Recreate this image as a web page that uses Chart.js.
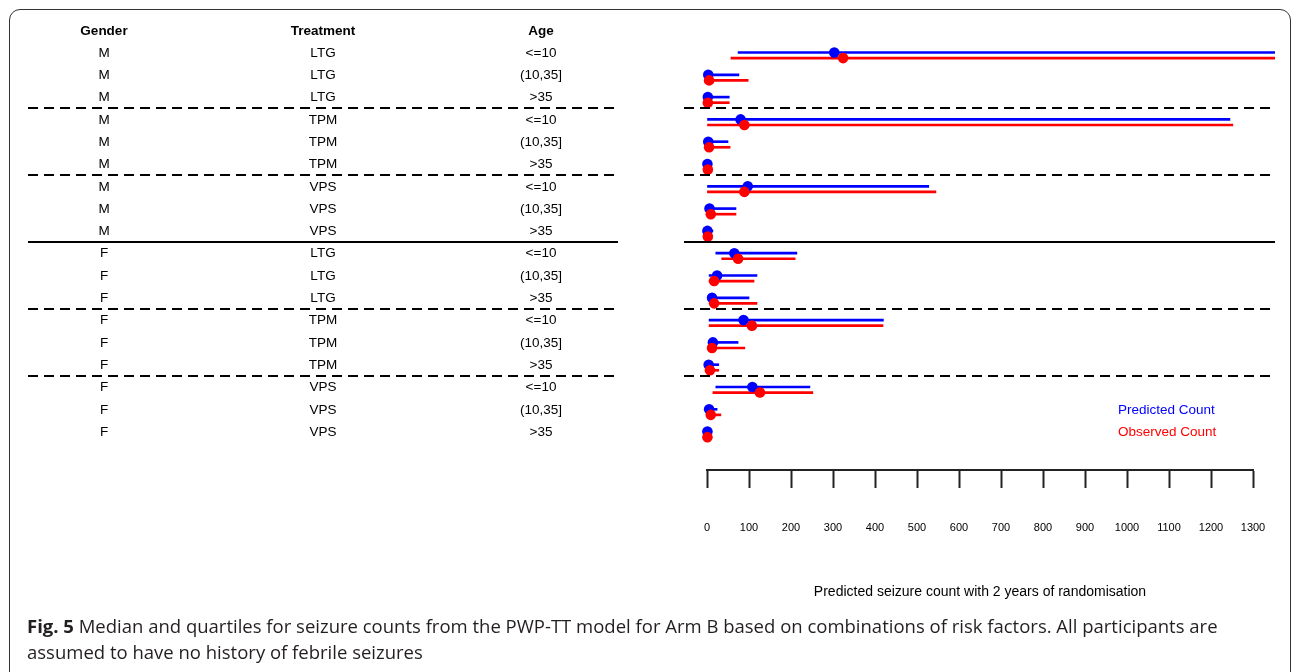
<!DOCTYPE html>
<html>
<head>
<meta charset="utf-8">
<script src="https://cdn.jsdelivr.net/npm/chart.js@4.4.1/dist/chart.umd.min.js"></script>
<style>
  html, body { margin: 0; padding: 0; background: #fff; }
  #wrap { position: relative; width: 1292px; height: 672px; overflow: hidden; background: #fff; }
  #frame { position: absolute; left: 9px; top: 9px; width: 1282px; height: 720px; border: 1.5px solid #333; border-radius: 11px; box-sizing: border-box; pointer-events: none; }
  #chart { position: absolute; left: 0; top: 0; }
  #caption { position: absolute; left: 27px; top: 613px; width: 1260px; font-family: "Open Sans", "Noto Sans", sans-serif; font-size: 18.5px; line-height: 26px; color: #231f20; white-space: nowrap; }
  #caption b { font-weight: 700; }
</style>
</head>
<body>
<div id="wrap">
  <canvas id="chart" width="1292" height="620"></canvas>
  <div id="frame"></div>
  <div id="caption"><b>Fig. 5</b> Median and quartiles for seizure counts from the PWP-TT model for Arm B based on combinations of risk factors. All participants are<br>assumed to have no history of febrile seizures</div>
</div>
<script>
// ---- data ----
const genders    = ['M','M','M','M','M','M','M','M','M','F','F','F','F','F','F','F','F','F'];
const treatments = ['LTG','LTG','LTG','TPM','TPM','TPM','VPS','VPS','VPS','LTG','LTG','LTG','TPM','TPM','TPM','VPS','VPS','VPS'];
const ages       = ['<=10','(10,35]','>35','<=10','(10,35]','>35','<=10','(10,35]','>35','<=10','(10,35]','>35','<=10','(10,35]','>35','<=10','(10,35]','>35'];

const predMedian = [303, 3, 2, 80, 3, 1, 97, 6, 1, 65, 24, 12, 87, 14, 4, 108, 5, 1];
const predLow    = [74, 3, 2, 0, 3, 1, 0, 6, 1, 21, 5, 12, 5, 5, 4, 21, 2, 1];
const predHigh   = [1500, 76, 53, 1245, 50, 3, 528, 69, 14, 214, 119, 100, 420, 74, 28, 245, 24, 2];

const obsMedian  = [324, 5, 2, 89, 5, 2, 89, 9, 2, 74, 17, 17, 107, 12, 7, 126, 9, 1];
const obsLow     = [57, 5, 2, 0, 5, 2, 1, 9, 2, 35, 5, 17, 5, 5, 7, 14, 2, 1];
const obsHigh    = [1500, 98, 53, 1252, 55, 3, 545, 69, 3, 210, 112, 119, 419, 90, 28, 252, 33, 2];

const xTicks = [0,100,200,300,400,500,600,700,800,900,1000,1100,1200,1300];
const separatorsDashed = [2, 5, 11, 14];   // after these rows
const separatorsSolid  = [8];
const headers = ['Gender', 'Treatment', 'Age'];
const legendLabels = ['Predicted Count', 'Observed Count'];
const axisTitle = 'Predicted seizure count with 2 years of randomisation';

const BLUE = '#0000ff', RED = '#ff0000';
const RED_OFF = 0.25;
const PLOT_OVERHANG = 22;   // the plotting region extends past the last tick

const rows = genders.map((_, i) => i);

const tablePlugin = {
  id: 'tablePlugin',
  afterDraw(chart) {
    const ctx = chart.ctx;
    const y = chart.scales.y;
    const area = chart.chartArea;
    const colX = [104, 323, 541];
    ctx.save();
    ctx.fillStyle = '#000';
    ctx.textAlign = 'center';
    ctx.textBaseline = 'middle';
    ctx.font = 'bold 13.5px "Liberation Sans", Arial, sans-serif';
    headers.forEach((h, k) => ctx.fillText(h, colX[k], y.getPixelForValue(-0.96)));
    ctx.font = '13.5px "Liberation Sans", Arial, sans-serif';
    rows.forEach(i => {
      const py = y.getPixelForValue(i) + 0.5;
      ctx.fillText(genders[i], colX[0], py);
      ctx.fillText(treatments[i], colX[1], py);
      ctx.fillText(ages[i], colX[2], py);
    });
    // separators
    ctx.strokeStyle = '#000';
    ctx.lineWidth = 2;
    const segs = [[28, 618], [684, area.right + PLOT_OVERHANG]];
    const drawSep = (r, dashed) => {
      const py = Math.round(y.getPixelForValue(r + 0.51));
      ctx.setLineDash(dashed ? [10, 6] : []);
      segs.forEach(s => {
        ctx.beginPath();
        ctx.moveTo(s[0], py);
        ctx.lineTo(s[1], py);
        ctx.stroke();
      });
    };
    separatorsDashed.forEach(r => drawSep(r, true));
    separatorsSolid.forEach(r => drawSep(r, false));
    ctx.setLineDash([]);
    // legend
    ctx.textAlign = 'left';
    ctx.font = '13.5px "Liberation Sans", Arial, sans-serif';
    ctx.fillStyle = BLUE;
    ctx.fillText(legendLabels[0], 1118, y.getPixelForValue(16.05));
    ctx.fillStyle = RED;
    ctx.fillText(legendLabels[1], 1118, y.getPixelForValue(17.05));
    ctx.restore();
  }
};

const barClip = { left: 0, right: PLOT_OVERHANG, top: false, bottom: false };

new Chart(document.getElementById('chart'), {
  type: 'bar',
  data: {
    datasets: [
      {
        type: 'scatter', label: 'Predicted median', order: 1,
        data: rows.map(i => ({ x: predMedian[i], y: i })),
        backgroundColor: BLUE, borderColor: BLUE, pointRadius: 5.3, pointHoverRadius: 5.3, borderWidth: 0, clip: false
      },
      {
        type: 'scatter', label: 'Observed median', order: 0,
        data: rows.map(i => ({ x: obsMedian[i], y: i + RED_OFF })),
        backgroundColor: RED, borderColor: RED, pointRadius: 5.3, pointHoverRadius: 5.3, borderWidth: 0, clip: false
      },
      {
        type: 'bar', label: 'Predicted IQR', order: 3, indexAxis: 'y', grouped: false,
        data: rows.map(i => ({ x: [predLow[i], predHigh[i]], y: i })),
        backgroundColor: BLUE, barThickness: 2, borderWidth: 0, clip: barClip
      },
      {
        type: 'bar', label: 'Observed IQR', order: 2, indexAxis: 'y', grouped: false,
        data: rows.map(i => ({ x: [obsLow[i], obsHigh[i]], y: i + RED_OFF })),
        backgroundColor: RED, barThickness: 2, borderWidth: 0, clip: barClip
      }
    ]
  },
  options: {
    responsive: false,
    animation: false,
    devicePixelRatio: 1,
    indexAxis: 'y',
    layout: { padding: { left: 707, right: 39, top: 30, bottom: 0 } },
    plugins: { legend: { display: false }, tooltip: { enabled: false } },
    scales: {
      x: {
        type: 'linear', position: 'bottom', min: 0, max: 1300, offset: false,
        afterBuildTicks: (s) => { s.ticks = xTicks.map(v => ({ value: v })); },
        afterFit: (s) => { s.paddingRight = 0; s.paddingLeft = 0; },
        border: { display: true, width: 2, color: '#222' },
        grid: { drawOnChartArea: false, drawTicks: true, tickLength: 18, tickWidth: 2, tickColor: '#222', offset: false },
        ticks: { padding: 33, color: '#000', font: { family: '"Liberation Sans", Arial, sans-serif', size: 11 }, maxRotation: 0, autoSkip: false, callback: (v) => String(v) },
        title: { display: true, text: axisTitle, color: '#000', font: { family: '"Liberation Sans", Arial, sans-serif', size: 14 }, padding: { top: 17, bottom: 19 } }
      },
      y: {
        type: 'linear', display: false, reverse: true, min: -1.009, max: 18.722, offset: false
      }
    }
  },
  plugins: [tablePlugin]
});
</script>
</body>
</html>
